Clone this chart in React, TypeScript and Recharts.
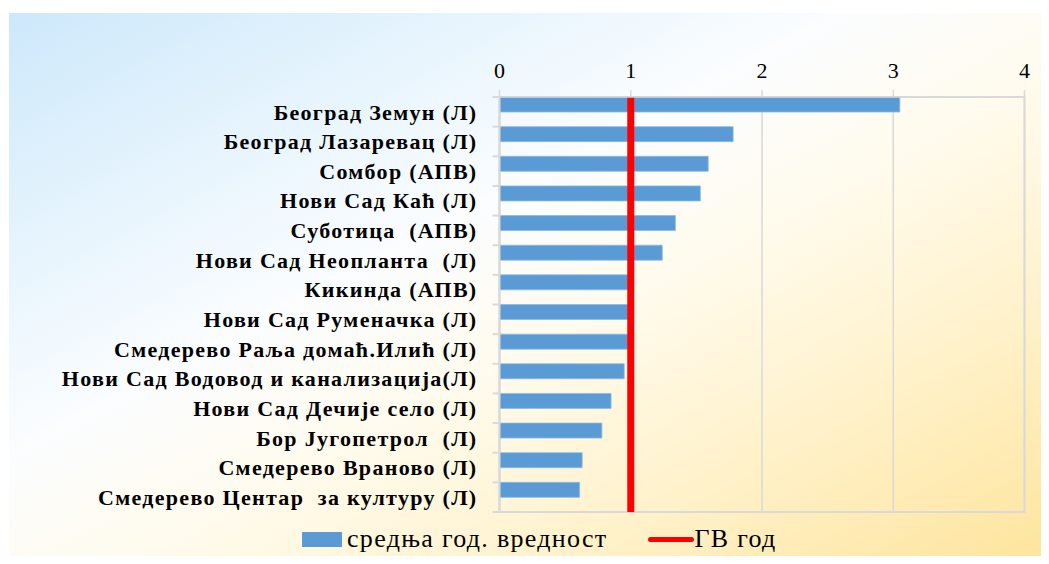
import React from 'react';
import {
  BarChart,
  Bar,
  XAxis,
  YAxis,
  CartesianGrid,
  ReferenceLine,
  ReferenceArea,
  Legend,
} from 'recharts';

// ---------- data ----------
const categories: string[] = [
  'Београд Земун (Л)',
  'Београд Лазаревац (Л)',
  'Сомбор (АПВ)',
  'Нови Сад Каћ (Л)',
  'Суботица  (АПВ)',
  'Нови Сад Неопланта  (Л)',
  'Кикинда (АПВ)',
  'Нови Сад Руменачка (Л)',
  'Смедерево Раља домаћ.Илић (Л)',
  'Нови Сад Водовод и канализација(Л)',
  'Нови Сад Дечије село (Л)',
  'Бор Југопетрол  (Л)',
  'Смедерево Враново (Л)',
  'Смедерево Центар  за културу (Л)',
];
const meanValues: number[] = [3.05, 1.78, 1.59, 1.53, 1.34, 1.24, 0.98, 0.98, 0.98, 0.95, 0.85, 0.78, 0.63, 0.61];
const xTicks: number[] = [0, 1, 2, 3, 4];
const gvLimit = 1;
const meanLabel = 'средња год. вредност';
const gvLabel = 'ГВ год';

const data = categories.map((name, i) => ({ name, mean: meanValues[i] }));

// ---------- style ----------
const SERIF = '"Liberation Serif", "Times New Roman", "DejaVu Serif", serif';
const BAR_COLOR = '#5b9bd5';
const GRID = '#d9d9d9';
const RED = '#ff0000';

const CategoryTick = (props: any) => {
  const { x, y, payload, index, visibleTicksCount } = props;
  const off = payload && payload.offset ? payload.offset : 0;
  const isLast = index === visibleTicksCount - 1;
  return (
    <g>
      <line x1={x - 7} x2={x} y1={y - off} y2={y - off} stroke={GRID} strokeWidth={2} />
      {isLast && <line x1={x - 7} x2={x} y1={y + off} y2={y + off} stroke={GRID} strokeWidth={2} />}
      <text
        x={x - 22}
        y={y}
        dy="0.35em"
        textAnchor="end"
        fontFamily={SERIF}
        fontWeight="bold"
        fontSize={22}
        letterSpacing={1.3}
        fill="#000"
        style={{ whiteSpace: 'pre' }}
      >
        {payload.value}
      </text>
    </g>
  );
};

const renderLegend = () => (
  <div
    style={{
      display: 'flex',
      alignItems: 'center',
      fontFamily: SERIF,
      fontSize: 26,
      letterSpacing: 1.3,
      color: '#000',
      height: 30,
      whiteSpace: 'nowrap',
    }}
  >
    <span style={{ display: 'inline-block', width: 40, height: 15, background: BAR_COLOR }} />
    <span style={{ marginLeft: 5 }}>{meanLabel}</span>
    <span
      style={{
        display: 'inline-block',
        width: 46,
        height: 5,
        borderRadius: 3,
        background: RED,
        marginLeft: 41,
      }}
    />
    <span>{gvLabel}</span>
  </div>
);

export default function App() {
  return (
    <div
      style={{
        position: 'relative',
        margin: -8,
        width: 1049,
        height: 564,
        background: '#ffffff',
        overflow: 'hidden',
      }}
    >
      <div
        style={{
          position: 'absolute',
          left: 9,
          top: 13,
          width: 1040,
          height: 551,
          background:
            'linear-gradient(to bottom right, #cde8fb 0%, #e6f4fd 22%, #fbfdff 40%, #fffbee 55%, #fff2cc 75%, #fee49c 100%)',
        }}
      />
      <div style={{ position: 'absolute', left: 0, top: 0 }}>
        <BarChart
          width={1049}
          height={564}
          data={data}
          layout="vertical"
          margin={{ top: 67, right: 24.5, bottom: 52, left: 9 }}
          barCategoryGap={0}
          barGap={0}
        >
          <CartesianGrid horizontal={false} vertical={true} stroke={GRID} strokeWidth={1.5} />
          <XAxis
            type="number"
            orientation="top"
            domain={[0, 4]}
            ticks={xTicks}
            interval={0}
            tickSize={7}
            tickMargin={12}
            axisLine={{ stroke: GRID, strokeWidth: 1.5 }}
            tickLine={{ stroke: GRID, strokeWidth: 1.5 }}
            tick={{ fill: '#000', fontSize: 22, fontFamily: SERIF }}
            height={30}
          />
          <YAxis
            type="category"
            dataKey="name"
            width={490.5}
            interval={0}
            tickSize={0}
            tickMargin={0}
            tickLine={false}
            axisLine={{ stroke: GRID, strokeWidth: 2 }}
            tick={<CategoryTick />}
          />
          <ReferenceArea x1={0} x2={4} fill="none" stroke={GRID} strokeWidth={2} ifOverflow="visible" />
          <Bar
            dataKey="mean"
            name={meanLabel}
            fill={BAR_COLOR}
            stroke="#8db9e3"
            strokeWidth={0.8}
            isAnimationActive={false}
          />
          <Bar dataKey="spacer" fill="none" legendType="none" isAnimationActive={false} />
          <ReferenceLine x={gvLimit} stroke={RED} strokeWidth={7} ifOverflow="visible" />
          <Legend
            layout="horizontal"
            verticalAlign="middle"
            align="center"
            content={renderLegend}
            wrapperStyle={{ left: 302, top: 524, width: 600 }}
          />
        </BarChart>
      </div>
    </div>
  );
}
